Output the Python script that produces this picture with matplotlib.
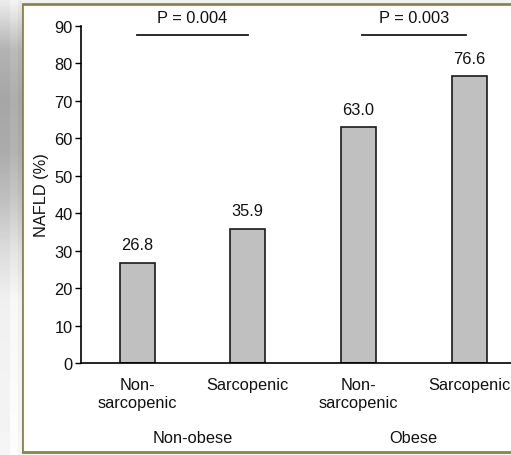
import numpy as np
import matplotlib.pyplot as plt
from matplotlib.patches import Rectangle

plt.rcParams['font.family'] = ['Liberation Sans', 'DejaVu Sans']

# data
groups = ['Non-obese', 'Obese']
categories = ['Non-\nsarcopenic', 'Sarcopenic', 'Non-\nsarcopenic', 'Sarcopenic']
nafld = [26.8, 35.9, 63.0, 76.6]
value_labels = ['26.8', '35.9', '63.0', '76.6']
p_labels = ['P = 0.004', 'P = 0.003']

W, H = 511, 456
fs = 11.8
txt = '#111111'
fig = plt.figure(figsize=(W / 100, H / 100), dpi=100)
fig.patch.set_facecolor('#f2f2f2')

# grey band on the left, like the slide background
bg = fig.add_axes([0, 0, 22 / W, 1], zorder=-5)
stops_y = [0, 20, 50, 100, 150, 200, 250, 300, 456]
stops_v = [0.93, 0.84, 0.70, 0.65, 0.67, 0.75, 0.86, 0.94, 0.96]
col = np.interp(np.arange(H), stops_y, stops_v)
img = np.tile(col[:, None], (1, 22))
img[:, 10:18] += 0.03
bg.imshow(img, cmap='gray', vmin=0, vmax=1, aspect='auto')
bg.axis('off')

# white frame with olive border
frame = Rectangle((22 / W, 3 / H), 1.0, (451 - 3) / H,
                  transform=fig.transFigure, facecolor='white',
                  edgecolor='#8c8250', linewidth=2, zorder=-10)
fig.patches.append(frame)

ax = fig.add_axes([81 / W, 92 / H, (W - 81) / W, 337 / H])
ax.patch.set_alpha(0)
x = np.arange(len(nafld))
ax.bar(x, nafld, width=0.316, color='#c0c0c0', edgecolor='#1a1a1a', linewidth=1.2)
ax.set_xlim(-0.506, 3.378)
ax.set_ylim(0, 90)
ax.set_yticks(range(0, 91, 10))
ax.set_xticks(x)
ax.set_xticklabels(categories, fontsize=fs, linespacing=1.25, color=txt)
ax.tick_params(axis='x', length=0, pad=10)
ax.tick_params(axis='y', length=4, width=1, labelsize=fs, labelcolor=txt, pad=2)
ax.set_ylabel('NAFLD (%)', fontsize=fs, labelpad=4, color=txt)
for s in ['top', 'right']:
    ax.spines[s].set_visible(False)
ax.spines['left'].set_linewidth(1.2)
ax.spines['bottom'].set_linewidth(1.2)

for xi, v, lab in zip(x, nafld, value_labels):
    ax.annotate(lab, (xi, v), xytext=(0, 13), textcoords='offset points',
                ha='center', va='center', fontsize=fs, color=txt)

# significance bars
ax.plot([0, 1], [87.6, 87.6], color='#1a1a1a', lw=1.3, clip_on=False)
ax.plot([2.03, 2.97], [87.6, 87.6], color='#1a1a1a', lw=1.3, clip_on=False)
ax.text(0.5, 92.2, p_labels[0], ha='center', va='center', fontsize=fs, color=txt, clip_on=False)
ax.text(2.5, 92.2, p_labels[1], ha='center', va='center', fontsize=fs, color=txt, clip_on=False)

# group labels
ax.text(0.5, -19.8, groups[0], ha='center', va='center', fontsize=fs, color=txt, clip_on=False)
ax.text(2.5, -19.8, groups[1], ha='center', va='center', fontsize=fs, color=txt, clip_on=False)

fig.savefig('out.png', dpi=100)
